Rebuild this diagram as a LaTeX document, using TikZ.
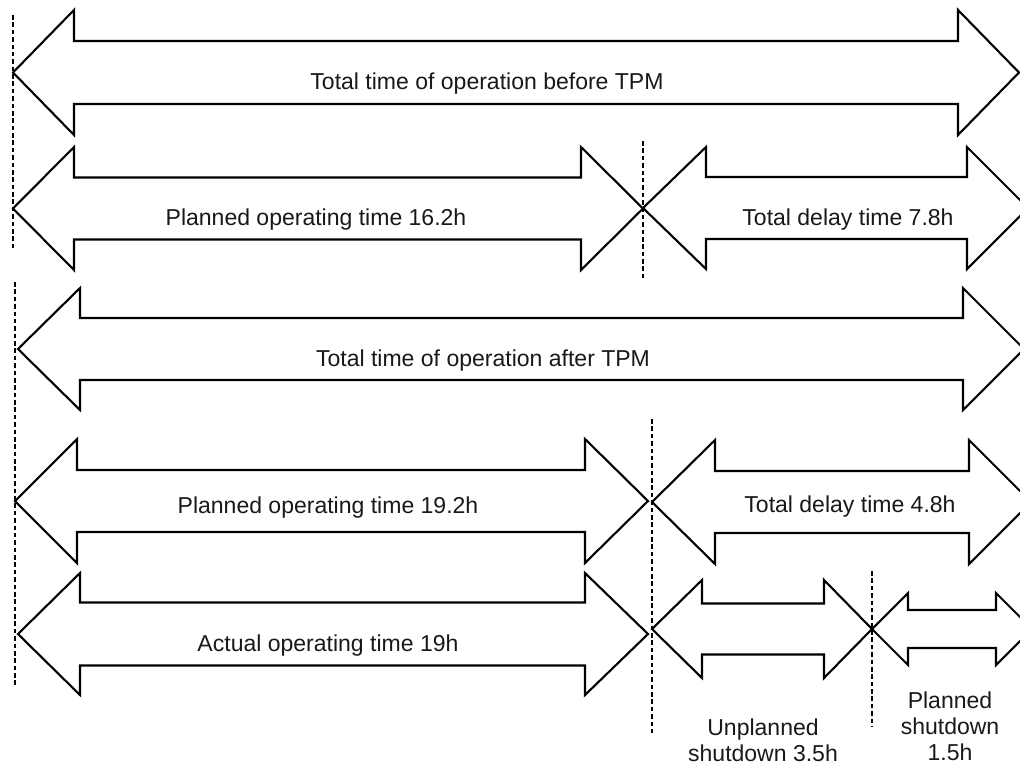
\documentclass[tikz,border=0pt]{standalone}
\usepackage{fontspec}
\setmainfont{Liberation Sans}
\tikzset{
  ar/.style={draw=black, line width=1.2pt, line join=miter, fill=white},
  cut/.style={draw=black, line width=0.75pt, dash pattern=on 2.6pt off 1.6pt},
  lbl/.style={font=\fontsize{13.1}{15}\selectfont, align=center, inner sep=0pt, text=black!90},
}
% #1 x1, #2 x2, #3 yc, #4 head half height, #5 shaft half height, #6 left head length, #7 right head length
\newcommand\dblarr[7]{%
  \draw[ar] (#1,#3) -- ({#1+#6},{#3-#4}) -- ({#1+#6},{#3-#5}) -- ({#2-#7},{#3-#5})
    -- ({#2-#7},{#3-#4}) -- (#2,#3) -- ({#2-#7},{#3+#4}) -- ({#2-#7},{#3+#5})
    -- ({#1+#6},{#3+#5}) -- ({#1+#6},{#3+#4}) -- cycle;}
\begin{document}
\begin{tikzpicture}[x=0.02cm, y=-0.02cm]
\useasboundingbox (0,0) rectangle (1020,765);
\clip (0,0) rectangle (1020,765);
% arrows
\dblarr{13}{1019}{72.5}{62.5}{31.5}{61}{61}
\dblarr{13}{643}{208.5}{61.5}{31}{61}{62}
\dblarr{643}{1028}{208}{61}{31}{63}{61}
\dblarr{18}{1024}{349}{61}{31}{62}{61}
\dblarr{15}{648}{501}{62}{31}{62}{63}
\dblarr{652}{1031}{502}{62}{31}{63}{62}
\dblarr{18}{648}{634}{61}{31.5}{62}{63}
\dblarr{652}{872}{629}{49}{25.5}{50}{48}
\dblarr{872}{1032}{629}{36}{19}{36}{36}
% dashed separators
\coordinate (d1a) at (13,15);  \coordinate (d1b) at (13,248);
\coordinate (d2a) at (643,141); \coordinate (d2b) at (643,280);
\coordinate (d3a) at (15,282); \coordinate (d3b) at (15,687);
\coordinate (d4a) at (652,419); \coordinate (d4b) at (652,733);
\coordinate (d5a) at (872,571); \coordinate (d5b) at (872,727);
\draw[cut] (d1a) -- (d1b);
\draw[cut] (d2a) -- (d2b);
\draw[cut] (d3a) -- (d3b);
\draw[cut] (d4a) -- (d4b);
\draw[cut] (d5a) -- (d5b);
% labels
\node[lbl, anchor=base] (t1) at (487,89) {Total time of operation before TPM};
\node[lbl, anchor=base] (t2) at (316,225) {Planned operating time 16.2h};
\node[lbl, anchor=base] (t3) at (848,225) {Total delay time 7.8h};
\node[lbl, anchor=base] (t4) at (483,366) {Total time of operation after TPM};
\node[lbl, anchor=base] (t5) at (328,513) {Planned operating time 19.2h};
\node[lbl, anchor=base] (t6) at (850,512) {Total delay time 4.8h};
\node[lbl, anchor=base] (t7) at (328,651) {Actual operating time 19h};
\node[lbl, anchor=north] (t8) at (763,718) {Unplanned\\shutdown 3.5h};
\node[lbl, anchor=north] (t9) at (950,691) {Planned\\shutdown\\1.5h};
\end{tikzpicture}
\end{document}
